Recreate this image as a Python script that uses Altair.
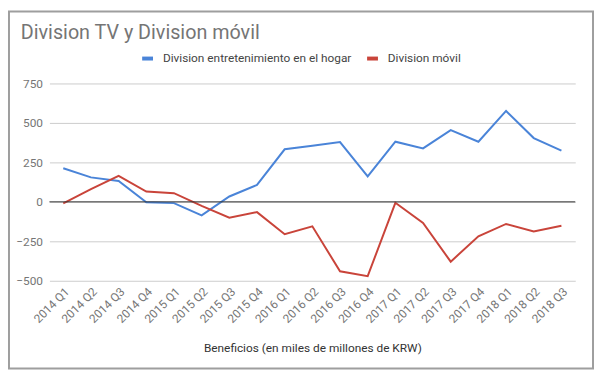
import altair as alt
import pandas as pd

quarters = ["2014 Q1", "2014 Q2", "2014 Q3", "2014 Q4",
            "2015 Q1", "2015 Q2", "2015 Q3", "2015 Q4",
            "2016 Q1", "2016 Q2", "2016 Q3", "2016 Q4",
            "2017 Q1", "2017 Q2", "2017 Q3", "2017 Q4",
            "2018 Q1", "2018 Q2", "2018 Q3"]
tv_values = [213, 155, 132, -2, -8, -86, 34, 107, 333, 356, 379, 161,
             381, 339, 454, 381, 576, 404, 325]
mobile_values = [-10, 80, 165, 65, 55, -25, -100, -65, -205, -155, -440,
                 -471, -6, -134, -379, -218, -140, -188, -151]
series_names = ["Division entretenimiento en el hogar", "Division móvil"]
series_colors = ["#4a84d8", "#c9443a"]
y_ticks = [-500, -250, 0, 250, 500, 750]
title_text = "Division TV y Division móvil"
x_title = "Beneficios (en miles de millones de KRW)"

rows = []
for q, v in zip(quarters, tv_values):
    rows.append({"q": q, "serie": series_names[0], "v": v})
for q, v in zip(quarters, mobile_values):
    rows.append({"q": q, "serie": series_names[1], "v": v})
df = pd.DataFrame(rows)

FONT = "Roboto"

y_axis = alt.Axis(title=None, values=y_ticks, labelFontSize=12,
                  labelColor="#757575", labelPadding=7,
                  labelOverlap=False, labelFlush=False,
                  ticks=False, domain=False, gridColor="#cccccc",
                  labelFont=FONT)
y_scale = alt.Scale(domain=[-500, 750], nice=False, zero=False)

lines = alt.Chart(df).mark_line(strokeWidth=2).encode(
    x=alt.X("q:O", sort=quarters,
            scale=alt.Scale(type="point", padding=0.5),
            axis=alt.Axis(title=x_title, labelAngle=-45, labelFontSize=12,
                          labelColor="#757575", labelPadding=5,
                          labelOverlap=False,
                          ticks=False, domain=False, grid=False,
                          titleFontSize=12, titleFontWeight="normal",
                          titleColor="#333333", titlePadding=18,
                          titleFont=FONT, labelFont=FONT)),
    y=alt.Y("v:Q", scale=y_scale, axis=y_axis),
    color=alt.Color("serie:N", sort=series_names,
                    scale=alt.Scale(domain=series_names, range=series_colors),
                    legend=alt.Legend(title=None, orient="none",
                                      direction="horizontal",
                                      legendX=92, legendY=-33,
                                      symbolType="stroke",
                                      symbolStrokeWidth=4, symbolSize=121,
                                      labelFontSize=12, labelColor="#444444",
                                      labelFont=FONT, labelOffset=8,
                                      columnPadding=7, padding=0,
                                      labelLimit=400)),
)

zero = alt.Chart(pd.DataFrame({"z": [0]})).mark_rule(
    color="#333333", strokeWidth=1).encode(
    y=alt.Y("z:Q", scale=y_scale, axis=y_axis))

title_df = pd.DataFrame({"t": [title_text]})
title = alt.Chart(title_df).mark_text(
    align="left", baseline="alphabetic", fontSize=20, font=FONT,
    color="#757575").encode(text="t:N", x=alt.value(-29), y=alt.value(-45))

border = alt.Chart(pd.DataFrame({"b": [1]})).mark_rect(
    fill=None, stroke="#9e9e9e", strokeWidth=2).encode(
    x=alt.value(-41), x2=alt.value(551), y=alt.value(-73), y2=alt.value(289))

chart = alt.layer(border, lines, zero, title).properties(
    width=533, height=200,
    autosize=alt.AutoSizeParams(type="none"),
    padding={"left": 42, "top": 74, "right": 19, "bottom": 91},
).configure_view(stroke=None)

chart.save("out.html", embed_options={"renderer": "svg", "actions": False})
